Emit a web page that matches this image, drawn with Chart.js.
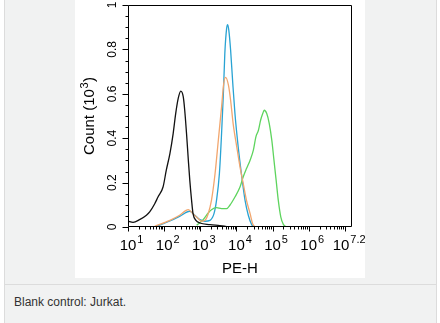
<!DOCTYPE html>
<html><head><meta charset="utf-8">
<script src="https://cdn.jsdelivr.net/npm/chart.js@4"></script>
<style>
html,body{margin:0;padding:0;width:440px;height:323px;overflow:hidden;background:#fff;font-family:"Liberation Sans",Arial,sans-serif;}
#frame{position:absolute;left:4px;top:-1px;width:431px;height:330px;border:1px solid #dcdcdc;background:#f1f2f2;}
#imgbox{position:absolute;left:75px;top:0;width:290px;height:278px;background:#fff;}
#sep{position:absolute;left:5px;top:284px;width:431px;height:1px;background:#dcdcdc;}
#cap{position:absolute;left:14px;top:295px;font-size:12px;line-height:14px;color:#333;}
canvas{display:block;}
</style></head>
<body>
<div id="frame"></div>
<div id="sep"></div>
<div id="imgbox"><canvas id="c" width="290" height="278"></canvas></div>
<div id="cap">Blank control: Jurkat.</div>
<script>
// PE-H values given as decade exponents (log10), counts in thousands
const blackExp   = [1.00,1.14,1.32,1.51,1.60,1.74,1.83,1.97,2.06,2.16,2.25,2.32,2.39,2.46,2.53,2.57,2.62,2.67,2.71,2.76,2.80,2.88,2.99,3.27,3.54,3.73];
const blackCount = [0.027,0.021,0.033,0.053,0.068,0.105,0.135,0.180,0.256,0.331,0.421,0.511,0.579,0.612,0.586,0.526,0.421,0.301,0.211,0.120,0.060,0.030,0.018,0.011,0.006,0.002];

const orangeExp   = [1.74,2.16,2.43,2.67,2.80,2.94,3.04,3.13,3.22,3.31,3.41,3.50,3.59,3.65,3.70,3.78,3.84,3.91,4.01,4.10,4.19,4.28,4.38,4.45,4.52];
const orangeCount = [0.003,0.030,0.053,0.078,0.060,0.038,0.026,0.030,0.060,0.120,0.241,0.391,0.541,0.647,0.674,0.639,0.571,0.466,0.361,0.271,0.195,0.120,0.060,0.015,0.000];

const blueExp   = [1.79,2.16,2.43,2.71,2.85,2.99,3.13,3.27,3.38,3.45,3.53,3.59,3.64,3.68,3.73,3.76,3.79,3.84,3.90,3.96,4.05,4.15,4.24,4.33,4.42,4.49];
const blueCount = [0.003,0.027,0.048,0.071,0.053,0.033,0.026,0.030,0.060,0.120,0.241,0.421,0.602,0.782,0.895,0.912,0.887,0.797,0.647,0.511,0.361,0.226,0.120,0.053,0.012,0.000];

const greenExp   = [2.90,3.08,3.22,3.31,3.45,3.59,3.73,3.82,3.96,4.10,4.19,4.28,4.38,4.47,4.54,4.61,4.67,4.73,4.77,4.84,4.91,4.98,5.04,5.10,5.16,5.23,5.30,5.38];
const greenCount = [0.008,0.033,0.063,0.078,0.087,0.083,0.083,0.098,0.135,0.180,0.226,0.263,0.301,0.346,0.406,0.436,0.481,0.511,0.526,0.511,0.466,0.391,0.301,0.211,0.120,0.045,0.012,0.000];

const xTickExps   = [1,2,3,4,5,6,7.2];
const xTickSups   = ['1','2','3','4','5','6','7.2'];
const yTickValues = [0,0.2,0.4,0.6,0.8,1];
const yTickLabels = ['0','0.2','0.4','0.6','0.8','1'];
const xTitle = 'PE-H';
const yTitleMain = 'Count (10', yTitleSup = '3', yTitleEnd = ')';

function series(exps, counts){ return exps.map((e,i)=>({x:Math.pow(10,e), y:counts[i]})); }

const FONT = '"Liberation Sans", Arial, sans-serif';

const axesPlugin = {
  id:'axesDraw',
  afterDatasetsDraw(chart){
    const {ctx, chartArea:a, scales} = chart; const x = scales.x, y = scales.y;
    const L = Math.round(a.left)+0.5, R = Math.round(a.right)-0.5, T = Math.round(a.top)+0.5, B = Math.round(a.bottom)-0.5;
    ctx.save();
    ctx.strokeStyle = '#000'; ctx.lineWidth = 1;
    ctx.beginPath(); ctx.rect(L,T,R-L,B-T); ctx.stroke();
    ctx.beginPath();
    for (let i=0;i<=20;i++){
      const py = Math.round(y.getPixelForValue(i/20))+0.5;
      const len = (i%4===0) ? 6 : 3;
      ctx.moveTo(L,py); ctx.lineTo(L-len,py);
    }
    for (let e=1;e<=7;e++){
      for (let m=1;m<=9;m++){
        const v = m*Math.pow(10,e); if (v > x.max*1.0001) break;
        const px = Math.round(x.getPixelForValue(v))+0.5;
        const len = m===1 ? 5 : 3;
        ctx.moveTo(px,B); ctx.lineTo(px,B+len);
      }
    }
    ctx.stroke();
    ctx.fillStyle = '#000';
    ctx.font = '12px ' + FONT; ctx.textAlign = 'center'; ctx.textBaseline = 'alphabetic';
    yTickValues.forEach((v,i)=>{
      const py = y.getPixelForValue(v);
      ctx.save(); ctx.translate(41, py); ctx.rotate(-Math.PI/2);
      ctx.fillText(yTickLabels[i], 0, 0); ctx.restore();
    });
    xTickExps.forEach((e,i)=>{
      let px = x.getPixelForValue(Math.pow(10,e));
      if (i === xTickExps.length-1) px -= 11;
      ctx.font = '15px ' + FONT; ctx.textAlign = 'center';
      ctx.fillText('10', px, 249.5);
      const w = ctx.measureText('10').width;
      ctx.font = '11px ' + FONT; ctx.textAlign = 'left';
      ctx.fillText(xTickSups[i], px + w/2 + 1, 243);
    });
    ctx.font = '15px ' + FONT; ctx.textAlign = 'center';
    ctx.fillText(xTitle, (a.left+a.right)/2, 273);
    ctx.font = '15px ' + FONT; const w1 = ctx.measureText(yTitleMain).width;
    const w3 = ctx.measureText(yTitleEnd).width;
    ctx.font = '11px ' + FONT; const w2 = ctx.measureText(yTitleSup).width;
    const W = w1 + w2 + 1 + w3;
    ctx.save(); ctx.translate(19, (a.top+a.bottom)/2); ctx.rotate(-Math.PI/2);
    ctx.textAlign = 'left';
    ctx.font = '15px ' + FONT; ctx.fillText(yTitleMain, -W/2, 0);
    ctx.font = '11px ' + FONT; ctx.fillText(yTitleSup, -W/2 + w1 + 0.5, -6);
    ctx.font = '15px ' + FONT; ctx.fillText(yTitleEnd, -W/2 + w1 + w2 + 1, 0);
    ctx.restore();
    ctx.restore();
  }
};

const ds = (label, data, color) => ({label, data, borderColor:color, borderWidth:1.3, pointRadius:0, fill:false, cubicInterpolationMode:'monotone'});

new Chart(document.getElementById('c'), {
  type:'line',
  data:{ datasets:[
    ds('Blank control', series(blackExp, blackCount), '#111111'),
    ds('Orange', series(orangeExp, orangeCount), '#f2a66e'),
    ds('Green', series(greenExp, greenCount), '#5ed45e'),
    ds('Blue', series(blueExp, blueCount), '#29a3d3')
  ]},
  options:{
    responsive:false, animation:false, devicePixelRatio:1,
    layout:{padding:{top:5, right:13, left:0, bottom:0}},
    plugins:{legend:{display:false}, tooltip:{enabled:false}},
    scales:{
      x:{type:'logarithmic', min:10, max:Math.pow(10,7.2),
         grid:{display:false}, border:{display:false}, ticks:{display:false},
         afterFit(s){ s.height = 51; }},
      y:{type:'linear', min:0, max:1,
         grid:{display:false}, border:{display:false}, ticks:{display:false},
         afterFit(s){ s.width = 53; }}
    }
  },
  plugins:[axesPlugin]
});
</script>
</body></html>
